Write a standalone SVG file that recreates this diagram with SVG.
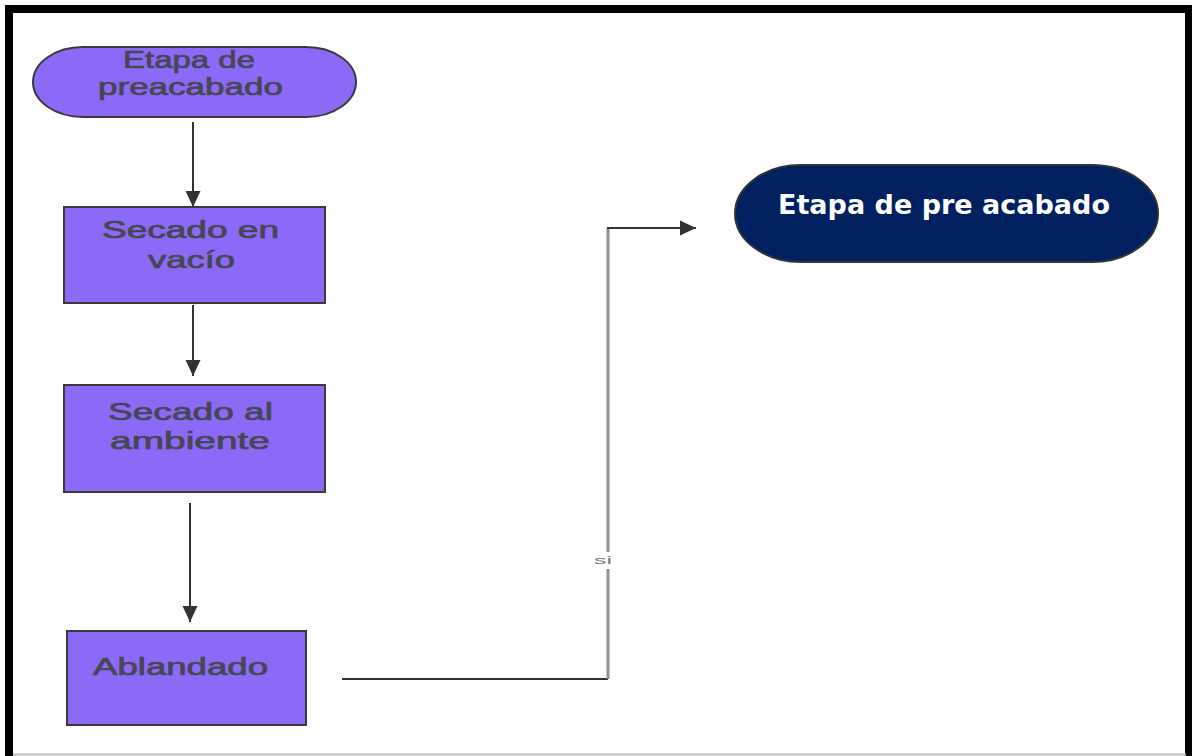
<svg xmlns="http://www.w3.org/2000/svg" width="1192" height="756" viewBox="0 0 1192 756">
<style>
.proc{fill:#8c6af7;stroke:#3a3a3a;stroke-width:2}
.term2{fill:#002060;stroke:#333;stroke-width:2}
.lbl{font-family:"Liberation Sans",Arial,sans-serif;font-size:23px;fill:#474656;stroke:#474656;stroke-width:0.7;text-anchor:middle}
.lbl2{font-family:"DejaVu Sans",Verdana,sans-serif;font-weight:bold;font-size:26px;fill:#ffffff;text-anchor:middle}
.edge{fill:none;stroke:#333;stroke-width:2}
.edgeg{fill:none;stroke:#8f8f8f;stroke-width:3}
.small{font-family:"Liberation Sans",Arial,sans-serif;font-size:10px;fill:#777;text-anchor:middle}
</style>
<defs>
<marker id="ah" markerUnits="userSpaceOnUse" markerWidth="18" markerHeight="18" viewBox="0 0 18 18" refX="17" refY="9" orient="auto">
<path d="M1,1.5 L17,9 L1,16.5 Z" fill="#333"/>
</marker>
</defs>
<rect x="0" y="0" width="1192" height="756" fill="#ffffff"/>
<path d="M9,756 L9,9 L1189,9 L1189,756" fill="none" stroke="#000" stroke-width="8"/>
<line x1="13" y1="754.5" x2="1186" y2="754.5" stroke="#bbb" stroke-width="2"/>

<g id="n1">
<rect class="proc" x="33" y="47" width="323" height="70" rx="50" ry="35"/>
<text class="lbl" x="189" y="68" textLength="132" lengthAdjust="spacingAndGlyphs">Etapa de</text>
<text class="lbl" x="190.5" y="95" textLength="185" lengthAdjust="spacingAndGlyphs">preacabado</text>
</g>
<g id="n2">
<rect class="proc" x="64" y="207" width="261" height="96"/>
<text class="lbl" x="190.5" y="238" textLength="177" lengthAdjust="spacingAndGlyphs">Secado en</text>
<text class="lbl" x="191.5" y="268" textLength="87" lengthAdjust="spacingAndGlyphs">vacío</text>
</g>
<g id="n3">
<rect class="proc" x="64" y="385" width="261" height="107"/>
<text class="lbl" x="190.5" y="420" textLength="165" lengthAdjust="spacingAndGlyphs">Secado al</text>
<text class="lbl" x="190" y="449" textLength="160" lengthAdjust="spacingAndGlyphs">ambiente</text>
</g>
<g id="n4">
<rect class="proc" x="67" y="631" width="239" height="94"/>
<text class="lbl" x="180.5" y="675" textLength="175" lengthAdjust="spacingAndGlyphs">Ablandado</text>
</g>
<g id="n5">
<rect class="term2" x="735" y="165" width="423" height="97" rx="66" ry="48.5"/>
<text class="lbl2" x="944" y="214" textLength="332" lengthAdjust="spacingAndGlyphs">Etapa de pre acabado</text>
</g>

<g id="connectors">
<line class="edge" x1="193" y1="122" x2="193" y2="207" marker-end="url(#ah)"/>
<line class="edge" x1="193" y1="305" x2="193" y2="376" marker-end="url(#ah)"/>
<line class="edge" x1="190" y1="503" x2="190" y2="622" marker-end="url(#ah)"/>
<polyline class="edge" points="342,679 608,679"/>
<line class="edgeg" x1="608" y1="679" x2="608" y2="569"/>
<line class="edgeg" x1="608" y1="552" x2="608" y2="228"/>
<line class="edge" x1="607" y1="228" x2="696" y2="228" marker-end="url(#ah)"/>
<text class="small" x="603" y="564" textLength="18" lengthAdjust="spacingAndGlyphs">si</text>
</g>
</svg>
